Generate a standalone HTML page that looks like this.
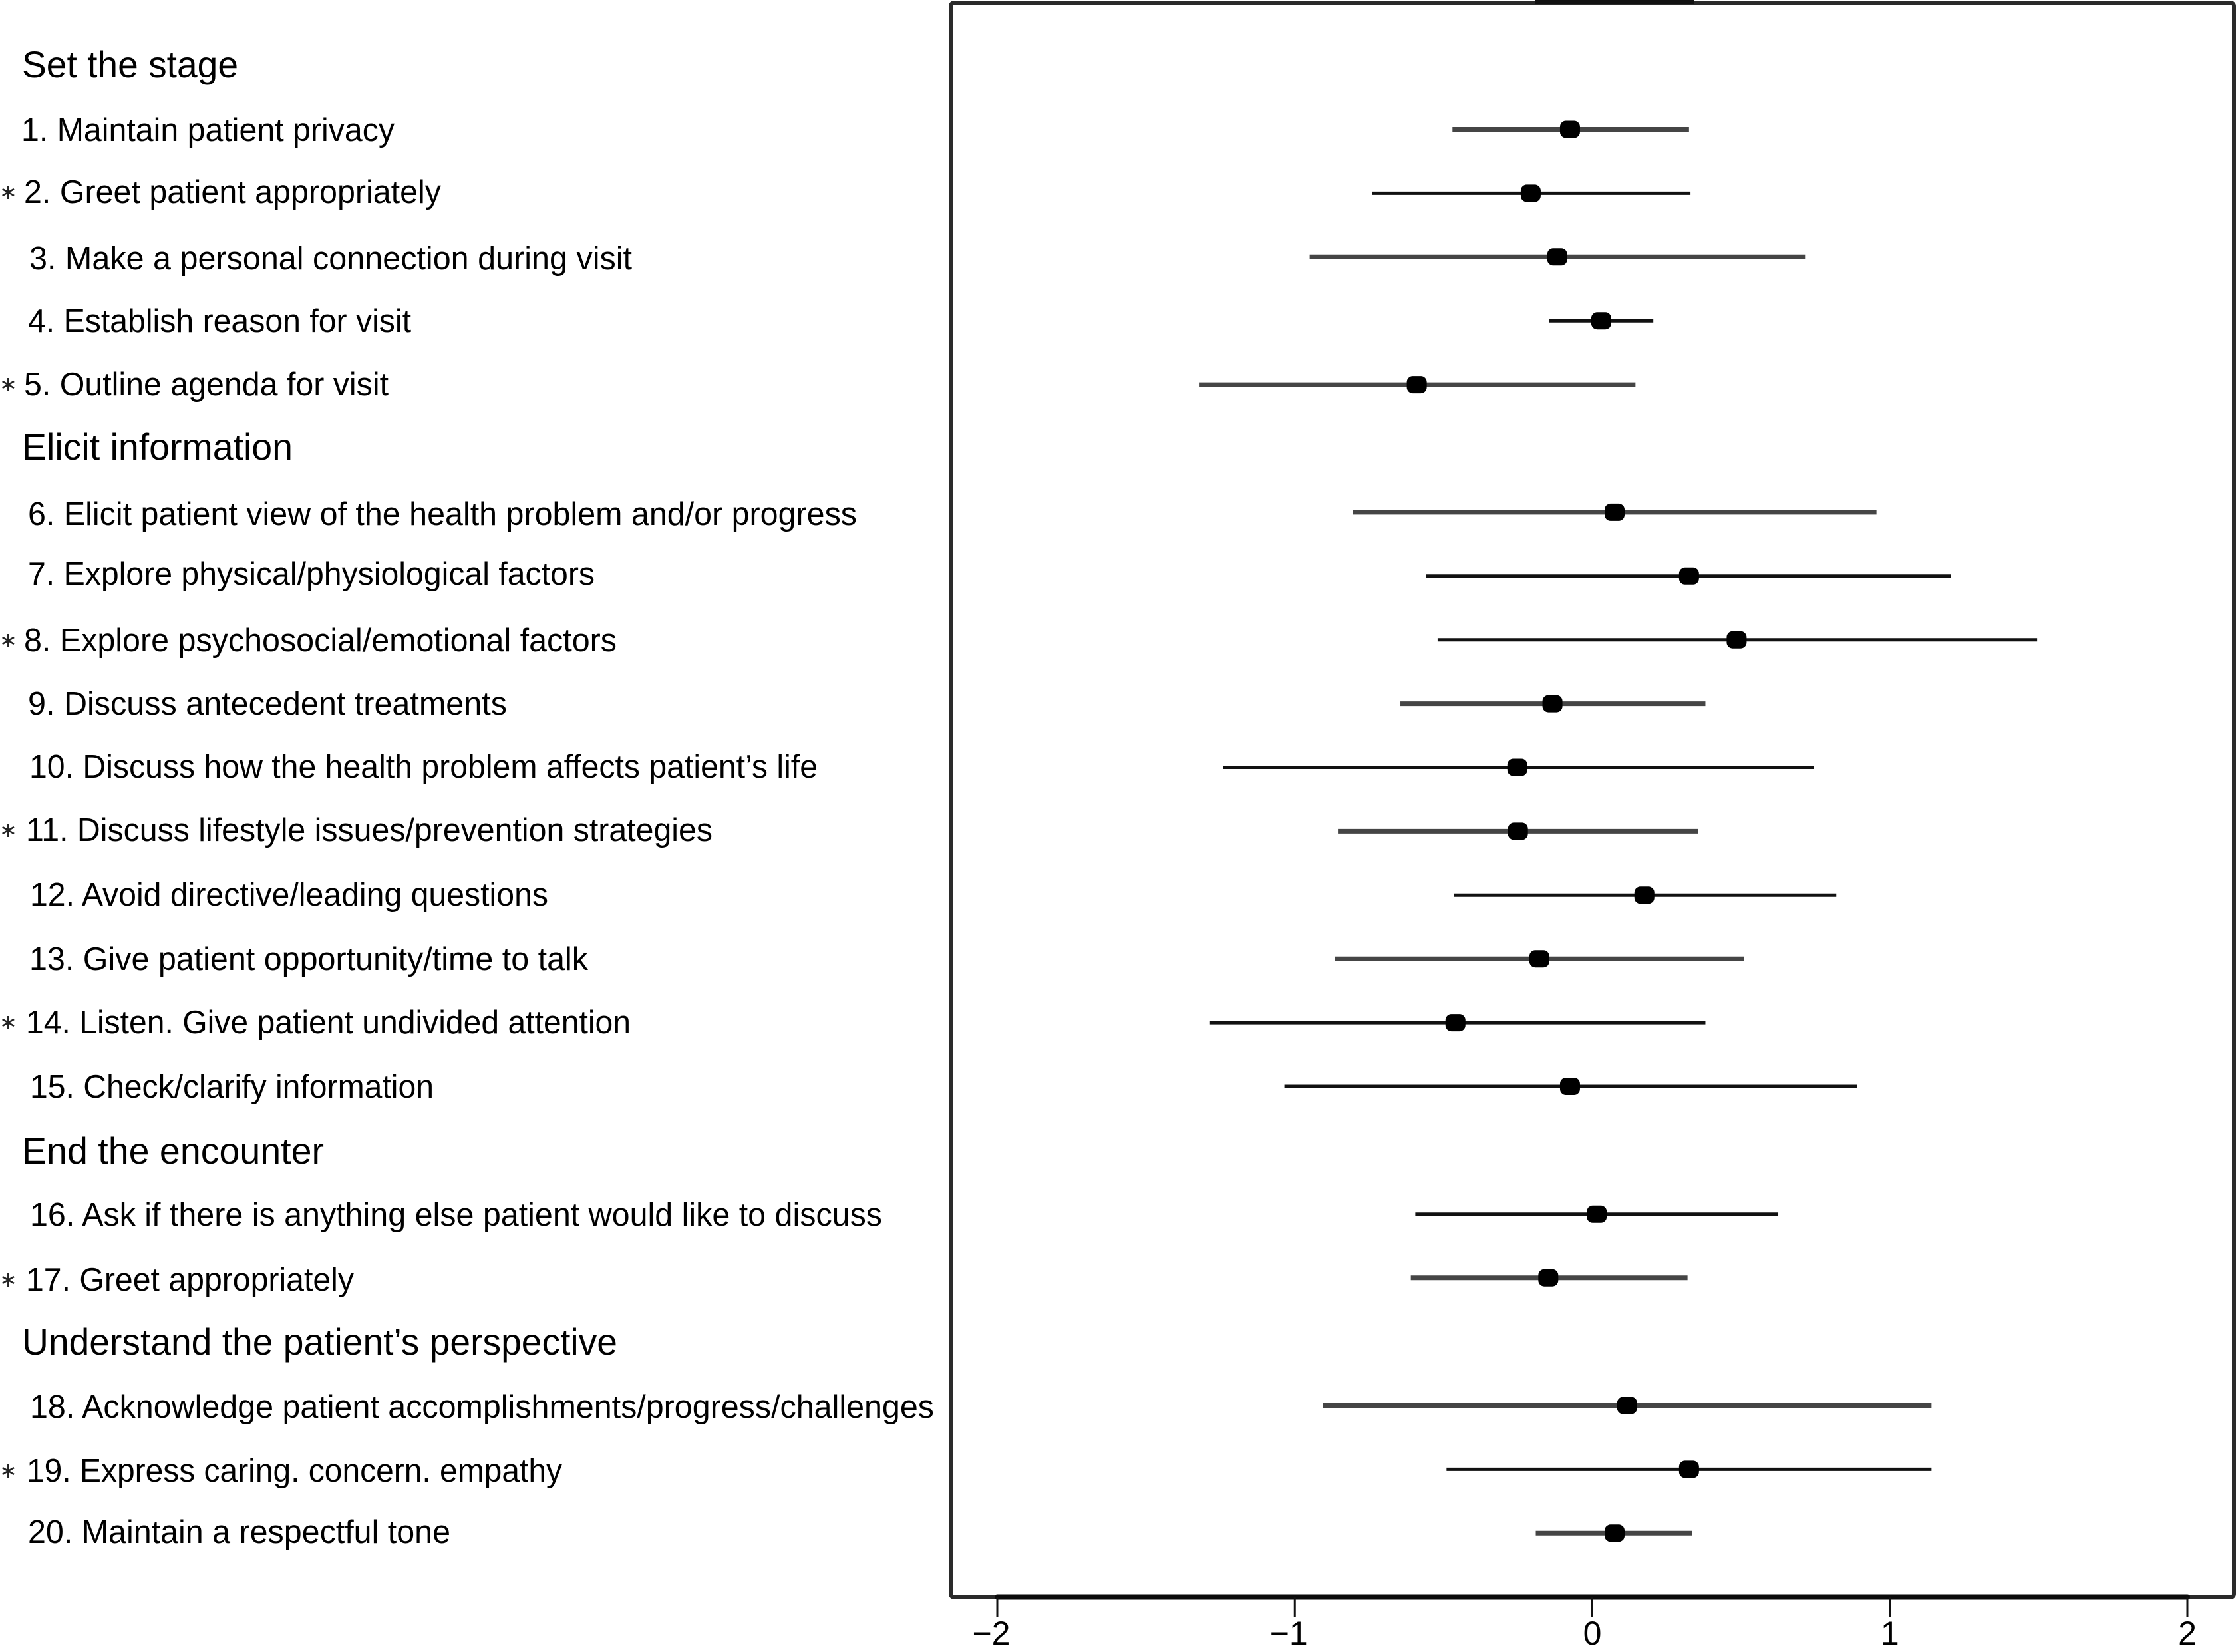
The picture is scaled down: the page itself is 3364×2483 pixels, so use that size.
<!DOCTYPE html>
<html lang="en">
<head>
<meta charset="utf-8">
<title>Communication skills forest plot</title>
<style>
html,body{margin:0;padding:0;background:#fff;width:3364px;height:2483px;overflow:hidden}
svg{display:block;position:absolute;left:0;top:0}
text{font-family:"Liberation Sans",Arial,sans-serif;fill:#000}
.h{font-size:56px}
.i{font-size:49px}
.s{font-size:32px;font-family:"DejaVu Sans",sans-serif;fill:#222;transform:translateY(-6px)}
.t{font-size:50px;text-anchor:middle}
</style>
</head>
<body>
<svg id="chart" xmlns="http://www.w3.org/2000/svg" width="3364" height="2483" viewBox="0 0 3364 2483">
<rect x="0" y="0" width="3364" height="2483" fill="#fff"/>
<g id="labels">
<text class="h" x="33" y="116" textLength="325" lengthAdjust="spacingAndGlyphs">Set the stage</text>
<text class="i" x="32" y="212" textLength="561" lengthAdjust="spacingAndGlyphs">1. Maintain patient privacy</text>
<text class="s" x="-1" y="305">∗</text>
<text class="i" x="36" y="305" textLength="627" lengthAdjust="spacingAndGlyphs">2. Greet patient appropriately</text>
<text class="i" x="44" y="405" textLength="906" lengthAdjust="spacingAndGlyphs">3. Make a personal connection during visit</text>
<text class="i" x="42" y="499" textLength="576" lengthAdjust="spacingAndGlyphs">4. Establish reason for visit</text>
<text class="s" x="-1" y="594">∗</text>
<text class="i" x="36" y="594" textLength="548" lengthAdjust="spacingAndGlyphs">5. Outline agenda for visit</text>
<text class="h" x="33" y="691" textLength="407" lengthAdjust="spacingAndGlyphs">Elicit information</text>
<text class="i" x="42" y="789" textLength="1246" lengthAdjust="spacingAndGlyphs">6. Elicit patient view of the health problem and/or progress</text>
<text class="i" x="42" y="879" textLength="852" lengthAdjust="spacingAndGlyphs">7. Explore physical/physiological factors</text>
<text class="s" x="-1" y="979">∗</text>
<text class="i" x="36" y="979" textLength="891" lengthAdjust="spacingAndGlyphs">8. Explore psychosocial/emotional factors</text>
<text class="i" x="42" y="1074" textLength="720" lengthAdjust="spacingAndGlyphs">9. Discuss antecedent treatments</text>
<text class="i" x="44" y="1169" textLength="1185" lengthAdjust="spacingAndGlyphs">10. Discuss how the health problem affects patient’s life</text>
<text class="s" x="-1" y="1264">∗</text>
<text class="i" x="39" y="1264" textLength="1032" lengthAdjust="spacingAndGlyphs">11. Discuss lifestyle issues/prevention strategies</text>
<text class="i" x="45" y="1361" textLength="779" lengthAdjust="spacingAndGlyphs">12. Avoid directive/leading questions</text>
<text class="i" x="44" y="1458" textLength="840" lengthAdjust="spacingAndGlyphs">13. Give patient opportunity/time to talk</text>
<text class="s" x="-1" y="1553">∗</text>
<text class="i" x="39" y="1553" textLength="909" lengthAdjust="spacingAndGlyphs">14. Listen. Give patient undivided attention</text>
<text class="i" x="45" y="1650" textLength="607" lengthAdjust="spacingAndGlyphs">15. Check/clarify information</text>
<text class="h" x="33" y="1749" textLength="454" lengthAdjust="spacingAndGlyphs">End the encounter</text>
<text class="i" x="45" y="1842" textLength="1281" lengthAdjust="spacingAndGlyphs">16. Ask if there is anything else patient would like to discuss</text>
<text class="s" x="-1" y="1940">∗</text>
<text class="i" x="39" y="1940" textLength="493" lengthAdjust="spacingAndGlyphs">17. Greet appropriately</text>
<text class="h" x="33" y="2036" textLength="895" lengthAdjust="spacingAndGlyphs">Understand the patient’s perspective</text>
<text class="i" x="45" y="2131" textLength="1359" lengthAdjust="spacingAndGlyphs">18. Acknowledge patient accomplishments/progress/challenges</text>
<text class="s" x="-1" y="2227">∗</text>
<text class="i" x="40" y="2227" textLength="805" lengthAdjust="spacingAndGlyphs">19. Express caring. concern. empathy</text>
<text class="i" x="42" y="2319" textLength="635" lengthAdjust="spacingAndGlyphs">20. Maintain a respectful tone</text>
</g>
<g id="frame">
<rect x="1429" y="4" width="1929" height="2397" fill="none" stroke="#2a2a2a" stroke-width="6" rx="5"/>
<rect x="2307" y="0" width="240" height="6" fill="#111"/>
</g>
<g id="xaxis"></g>
<g id="marks"></g>
</svg>
<script>
// One slot per row, top to bottom; null = section-header row.
var rowNames = ["Set the stage","1","2","3","4","5","Elicit information","6","7","8","9","10","11","12","13","14","15","End the encounter","16","17","Understand the patient's perspective","18","19","20"];
var estimates = [null,-0.075,-0.207,-0.118,0.03,-0.59,null,0.075,0.325,0.485,-0.134,-0.252,-0.25,0.175,-0.178,-0.46,-0.075,null,0.015,-0.148,null,0.117,0.325,0.075];
var lowerBounds = [null,-0.47,-0.74,-0.95,-0.145,-1.32,null,-0.805,-0.56,-0.52,-0.645,-1.24,-0.855,-0.465,-0.865,-1.285,-1.035,null,-0.595,-0.61,null,-0.905,-0.49,-0.19];
var upperBounds = [null,0.325,0.33,0.715,0.205,0.145,null,0.955,1.205,1.495,0.38,0.745,0.355,0.82,0.51,0.38,0.89,null,0.625,0.32,null,1.14,1.14,0.335];
var lineTone = [null,"g","k","g","k","g",null,"g","k","k","g","k","g","k","g","k","k",null,"k","g",null,"g","k","g"];
var tickValues = [-2,-1,0,1,2];
var tickLabels = ["\u22122","\u22121","0","1","2"];

var NS = "http://www.w3.org/2000/svg";
function xScale(v){ return 2393.5 + 447.25 * v; }
function yScale(slot){ return 98.6 + 95.9 * slot; }
function make(tag, attrs){
  var el = document.createElementNS(NS, tag);
  for (var k in attrs) el.setAttribute(k, attrs[k]);
  return el;
}

var xaxis = document.getElementById("xaxis");
var axisLine = make("line", {x1:xScale(tickValues[0]), x2:xScale(tickValues[tickValues.length-1]), y1:2400.5, y2:2400.5, stroke:"#0a0a0a", "stroke-width":8, "stroke-linecap":"round"});


xaxis.appendChild(axisLine);
tickValues.forEach(function(v, i){
  var tick = make("line", {x1:xScale(v), x2:xScale(v), y1:2400, y2:2430, stroke:"#111", "stroke-width":3});
  
  
  xaxis.appendChild(tick);
  var label = make("text", {"class":"t", x:xScale(v) - (v < 0 ? 9 : 0), y:2472});
  
  
  label.textContent = tickLabels[i];
  xaxis.appendChild(label);
});

var marks = document.getElementById("marks");
rowNames.forEach(function(name, i){
  if (estimates[i] === null) return;
  var y = yScale(i);
  var grey = lineTone[i] === "g";
  var ci = make("line", {x1:xScale(lowerBounds[i]), x2:xScale(upperBounds[i]), y1:y, y2:y, stroke:grey ? "#454545" : "#111", "stroke-width":grey ? 7 : 5, "stroke-linecap":"butt"});
  
  
  marks.appendChild(ci);
  var pt = make("rect", {x:xScale(estimates[i]) - 15, y:y - 13, width:30, height:26, rx:9, ry:9, fill:"#000"});
  
  
  marks.appendChild(pt);
});
</script>
</body>
</html>
